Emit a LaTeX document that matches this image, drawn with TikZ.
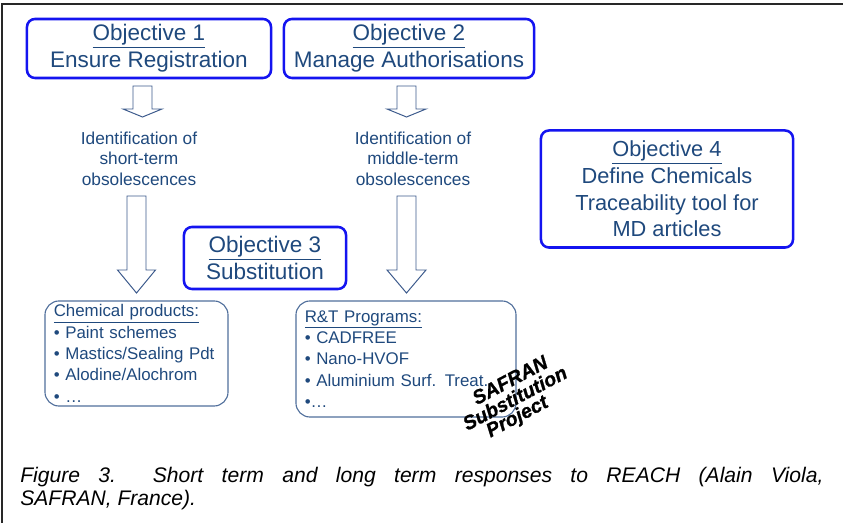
\documentclass[tikz,border=0pt]{standalone}
\usepackage{fontspec}
\setmainfont{Liberation Sans}
\newfontfamily\stampfont[BoldItalicFeatures={FakeBold=1}]{Liberation Sans}
\usepackage{xcolor}
\usetikzlibrary{positioning}

\definecolor{objtext}{RGB}{31,73,125}
\definecolor{boxblue}{RGB}{20,20,240}
\definecolor{listedge}{RGB}{80,110,155}
\definecolor{arrowedge}{RGB}{60,90,140}
\definecolor{framegray}{RGB}{40,40,40}

\tikzset{
    objbox/.style={draw=boxblue, line width=1.8pt, rounded corners=0.2cm, fill=white,
        text=objtext, align=center, inner sep=0pt, font=\fontsize{16}{19}\selectfont},
    listbox/.style={draw=listedge, line width=0.8pt, rounded corners=0.35cm,
        text=objtext, align=left, inner xsep=0.22cm, inner ysep=0pt,
        font=\fontsize{12}{15.2}\selectfont},
    idtext/.style={text=objtext, align=center, inner sep=0pt, font=\fontsize{12.3}{14.6}\selectfont},
    hollow/.style={draw=arrowedge, line width=0.7pt, fill=white},
    stamp/.style={inner sep=0pt, anchor=base, rotate=28, font=\stampfont\bfseries\itshape\fontsize{14}{14}\selectfont},
    caption/.style={align=justify, inner sep=0pt, text width=20.075cm,
        font=\itshape\fontsize{15}{16.4}\selectfont}
}

% block arrow: x, top, start of head, tip, half shaft, half head
\newcommand{\hollowarrow}[6]{%
    \draw[hollow] ({#1-#5},#2) -- ({#1+#5},#2) -- ({#1+#5},#3) -- ({#1+#6},#3)
        -- (#1,#4) -- ({#1-#6},#3) -- ({#1-#5},#3) -- cycle;}

\begin{document}
\begin{tikzpicture}[x=0.025cm, y=-0.025cm]
    \useasboundingbox (0,0) rectangle (843,523);

    % --- frame ---
    \draw[framegray, line width=1.4pt] (2,523) -- (2,4) -- (843,4);

    % --- Objectives ---
    \node[objbox, minimum width=6.1cm, minimum height=1.475cm] (obj1) at (149,48.5)
        {\underline{Objective 1}\\Ensure Registration};
    \node[objbox, minimum width=6.25cm, minimum height=1.475cm] (obj2) at (409,48.5)
        {\underline{Objective 2}\\Manage Authorisations};
    \node[objbox, minimum width=4.05cm, minimum height=1.55cm] (obj3) at (265,258)
        {\underline{Objective 3}\\Substitution};
    \node[objbox, minimum width=6.3cm, minimum height=2.925cm,
        font=\fontsize{15.5}{19}\selectfont] (obj4) at (667,189)
        {\underline{Objective 4}\\Define Chemicals\\Traceability tool for\\MD articles};

    % --- obsolescences ---
    \node[idtext] (shortterm) at (139,158.5) {Identification of\\short-term\\obsolescences};
    \node[idtext] (midterm) at (413,158.5) {Identification of\\middle-term\\obsolescences};

    % --- hollow arrows ---
    \hollowarrow{142.5}{86}{109}{117}{9.5}{19.5}
    \hollowarrow{406.5}{86}{109}{117}{9.5}{19.5}
    \hollowarrow{136.5}{196}{270}{293}{9.5}{19}
    \hollowarrow{406.5}{196}{270}{293}{9.5}{19.5}

    % --- lists ---
    \node[listbox, minimum width=4.575cm, minimum height=2.625cm, text width=4.135cm] (chem) at (136.5,353.5)
        {\underline{Chemical products:}\\
         • Paint schemes\\
         • Mastics/Sealing Pdt\\
         • Alodine/Alochrom\\
         • …};
    \node[listbox, minimum width=5.5cm, minimum height=2.9cm, text width=5.06cm] (rtprog) at (406,359)
        {\underline{R\&T Programs:}\\
         • CADFREE\\
         • Nano-HVOF\\
         • Aluminium Surf. Treat.\\
         •…};

    % --- stamp ---
    \node[stamp] (stampa) at (513,386) {SAFRAN};
    \node[stamp] (stampb) at (518,404) {Substitution};
    \node[stamp] (stampc) at (520,422) {Project};

    % --- caption ---
    \node[caption, anchor=north west] (cap) at (20,467)
        {Figure 3.\ \ Short term and long term responses to REACH (Alain Viola,\linebreak
         SAFRAN, France).};
\end{tikzpicture}
\end{document}
